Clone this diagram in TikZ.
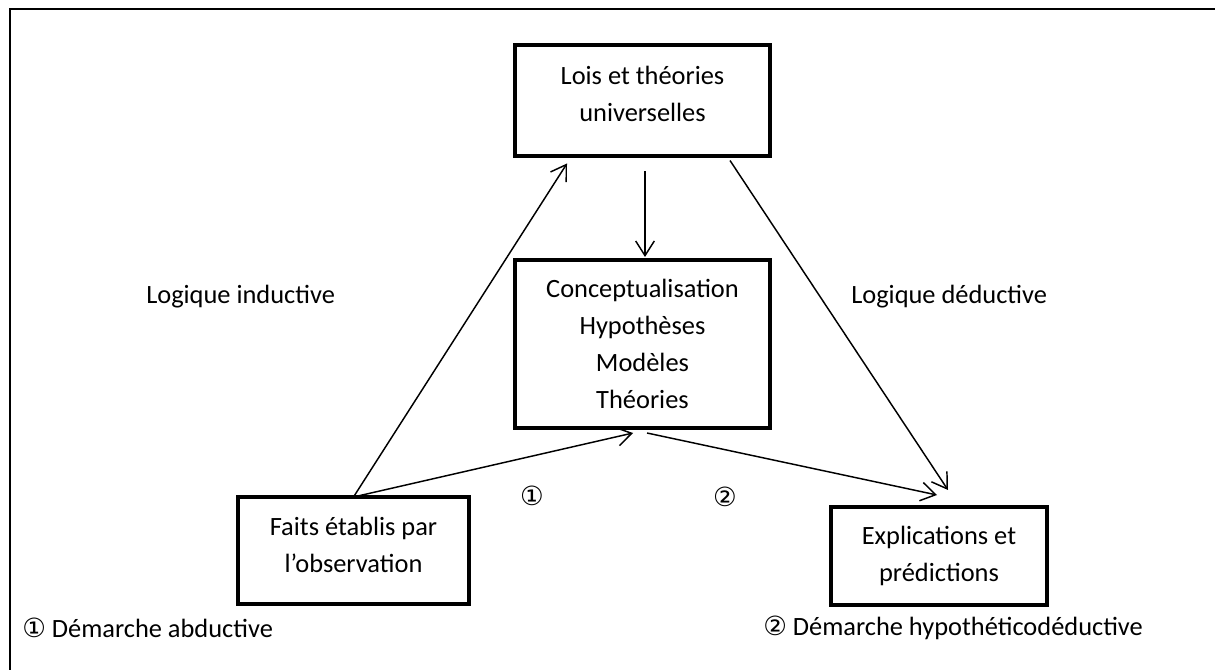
\documentclass[tikz,border=0pt]{standalone}
\usepackage{fontspec}
\setmainfont{Carlito}
\newfontfamily\circfont{DejaVu Sans}
\usetikzlibrary{arrows.meta,calc}
\begin{document}
\begin{tikzpicture}[x=0.75pt,y=-0.75pt,
  box/.style={draw,line width=3pt,rectangle,align=center,inner sep=0pt,outer sep=0pt,
    font=\fontsize{19.8}{27.75}\selectfont},
  conn/.style={line width=1.1pt,-{Straight Barb[length=11pt,width=14pt]}},
  lbl/.style={font=\fontsize{19.8}{24}\selectfont,inner sep=0pt},
  frame/.style={line width=1.3pt}]
\useasboundingbox (0,0) rectangle (1215,670);
% outer frame (top and left sides only)
\draw[frame] (10,670) -- (10,9) -- (1215,9);
% boxes
\node[box,minimum width=191.25pt,minimum height=83.25pt,text depth=11pt] (lois) at (642.5,101) {Lois et théories\\universelles};
\node[box,minimum width=191.25pt,minimum height=126pt] (concept) at (642.5,344) {Conceptualisation\\Hypothèses\\Modèles\\Théories};
\node[box,minimum width=173.25pt,minimum height=80.25pt,text depth=8pt] (faits) at (353.5,550.5) {Faits établis par\\l’observation};
\node[box,minimum width=162pt,minimum height=73.5pt] (expl) at (939,556) {Explications et\\prédictions};
% labels
\node[lbl,anchor=west] (ind) at (146,297) {Logique inductive};
\node[lbl,anchor=west] (ded) at (851,297) {Logique déductive};
\node[lbl] (c1) at (532,496) {\circfont ①};
\node[lbl] (c2) at (725,497) {\circfont ②};
\node[lbl,anchor=west] (abd) at (22,628) {{\circfont ①} Démarche abductive};
\node[lbl,anchor=west] (hyp) at (763,628) {{\circfont ②} Démarche hypothéticodéductive};
% connectors
\draw[conn] (faits.north) -- ($(lois.south)+(-75.5,7)$);
\draw[conn] ($(lois.south)+(2.5,15)$) -- ($(concept.north)+(2.5,-3)$);
\draw[conn] (faits.north) -- ($(concept.south)+(-9.5,5)$);
\draw[conn] ($(concept.south)+(4.5,5)$) -- ($(expl.north)+(-2,-12)$);
\draw[conn] ($(lois.south)+(87.5,4)$) -- ($(expl.north)+(9,-17)$);
\end{tikzpicture}
\end{document}
